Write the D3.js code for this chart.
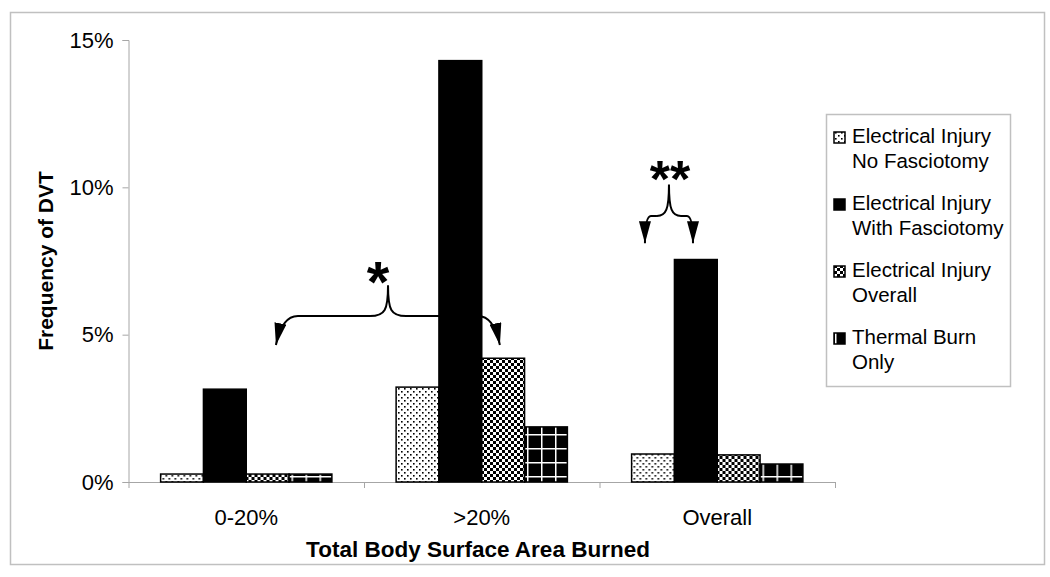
<!DOCTYPE html>
<html>
<head>
<meta charset="utf-8">
<script src="https://cdn.jsdelivr.net/npm/d3@7"></script>
<style>
  body { margin: 0; background: #fff; }
  text { font-family: "Liberation Sans", Arial, sans-serif; }
</style>
</head>
<body>
<div id="chart"></div>
<script>
// data
const categories = ["0-20%", ">20%", "Overall"];
const seriesNames = [
  ["Electrical Injury", "No Fasciotomy"],
  ["Electrical Injury", "With Fasciotomy"],
  ["Electrical Injury", "Overall"],
  ["Thermal Burn", "Only"]
];
const noFasciotomy   = [0.27, 3.22, 0.95];
const withFasciotomy = [3.15, 14.3, 7.55];
const elecOverall    = [0.27, 4.2, 0.92];
const thermalOnly    = [0.27, 1.87, 0.61];
const yTicks = [0, 5, 10, 15];
const seriesValues = [noFasciotomy, withFasciotomy, elecOverall, thermalOnly];

// significance braces (x in category units, y in %)
const braces = [
  { label: "*",  left: 0.626, right: 1.577, center: 1.102, tip: 6.68, bar: 5.63, arrow: 4.65, labelY: 6.11, labelDx: -10, size: 58 },
  { label: "**", left: 2.193, right: 2.397, center: 2.295, tip: 10.1, bar: 9.03, arrow: 8.1, labelY: 9.67, labelDx: 1, size: 52 }
];

const width = 1050, height = 577;
const margin = { left: 128.5, right: 1050 - 835, top: 40, bottom: 577 - 482 };

const svg = d3.select("#chart").append("svg")
  .attr("width", width).attr("height", height);

const defs = svg.append("defs");
// dotted
const pDot = defs.append("pattern").attr("id", "pat-dot")
  .attr("patternUnits", "userSpaceOnUse").attr("width", 6).attr("height", 6);
pDot.append("rect").attr("width", 6).attr("height", 6).attr("fill", "#fff");
pDot.append("rect").attr("x", 1).attr("y", 1).attr("width", 1.6).attr("height", 1.6).attr("fill", "#000");
pDot.append("rect").attr("x", 4).attr("y", 4).attr("width", 1.6).attr("height", 1.6).attr("fill", "#000");
// checker
const pChk = defs.append("pattern").attr("id", "pat-chk")
  .attr("patternUnits", "userSpaceOnUse").attr("width", 6).attr("height", 6);
pChk.append("rect").attr("width", 6).attr("height", 6).attr("fill", "#fff");
pChk.append("rect").attr("width", 3).attr("height", 3).attr("fill", "#000");
pChk.append("rect").attr("x", 3).attr("y", 3).attr("width", 3).attr("height", 3).attr("fill", "#000");
// grid
const pGrid = defs.append("pattern").attr("id", "pat-grid")
  .attr("patternUnits", "userSpaceOnUse").attr("width", 14).attr("height", 14);
pGrid.append("rect").attr("width", 14).attr("height", 14).attr("fill", "#000");
pGrid.append("rect").attr("x", 9).attr("y", 0).attr("width", 1.5).attr("height", 14).attr("fill", "#fff");
pGrid.append("rect").attr("x", 0).attr("y", 0).attr("width", 14).attr("height", 1.5).attr("fill", "#fff");

const fills = ["url(#pat-dot)", "#000", "url(#pat-chk)", "url(#pat-grid)"];

defs.append("marker").attr("id", "arrow")
  .attr("markerUnits", "userSpaceOnUse")
  .attr("markerWidth", 22).attr("markerHeight", 12)
  .attr("refX", 22).attr("refY", 6).attr("orient", "auto")
  .append("path").attr("d", "M0,0 L22,6 L0,12 Z").attr("fill", "#000");

// outer frame
svg.append("rect").attr("x", 10.5).attr("y", 12.5).attr("width", 1034).attr("height", 552)
  .attr("fill", "none").attr("stroke", "#c0c0c0").attr("stroke-width", 1.5);

const x0 = d3.scaleBand().domain(categories)
  .range([margin.left, width - margin.right]);
const x1 = d3.scaleBand().domain(d3.range(seriesValues.length))
  .range([0, x0.bandwidth()]).paddingInner(0).paddingOuter(0.75);
const xl = d3.scaleLinear().domain([0, categories.length])
  .range([margin.left, width - margin.right]);
const y = d3.scaleLinear().domain([0, 15]).range([height - margin.bottom, margin.top]);

// y axis
const yAxis = svg.append("g").attr("transform", `translate(${margin.left},0)`)
  .call(d3.axisLeft(y).tickValues(yTicks).tickFormat(d => d + "%").tickSize(6).tickPadding(9));
yAxis.select(".domain").attr("stroke", "#a6a6a6");
yAxis.selectAll(".tick line").attr("stroke", "#a6a6a6");
yAxis.selectAll(".tick text").attr("font-size", 22).attr("fill", "#000")
  .style("font-family", "'Liberation Sans', Arial, sans-serif");

// x axis
const xAxis = svg.append("g").attr("transform", `translate(0,${y(0)})`)
  .call(d3.axisBottom(xl).tickValues(d3.range(categories.length + 1)).tickFormat("").tickSize(6).tickSizeOuter(0));
xAxis.select(".domain").attr("stroke", "#a6a6a6");
xAxis.selectAll(".tick line").attr("stroke", "#a6a6a6");

svg.append("g").selectAll("text").data(categories).join("text")
  .attr("x", d => x0(d) + x0.bandwidth() / 2)
  .attr("y", 525)
  .attr("text-anchor", "middle").attr("font-size", 22)
  .text(d => d);

// bars
const groups = svg.append("g").selectAll("g").data(categories).join("g")
  .attr("transform", d => `translate(${x0(d)},0)`);
groups.selectAll("rect")
  .data((c, ci) => seriesValues.map((s, si) => ({ si, v: s[ci] })))
  .join("rect")
  .attr("x", d => x1(d.si))
  .attr("width", x1.bandwidth())
  .attr("y", d => y(d.v))
  .attr("height", d => y(0) - y(d.v))
  .attr("fill", d => fills[d.si])
  .attr("stroke", "#000").attr("stroke-width", 1.5);

// axis titles
svg.append("text")
  .attr("transform", `translate(53,${(y(0) + y(15)) / 2}) rotate(-90)`)
  .attr("text-anchor", "middle").attr("font-size", 21).attr("font-weight", "bold")
  .text("Frequency of DVT");
svg.append("text")
  .attr("x", 478).attr("y", 557)
  .attr("text-anchor", "middle").attr("font-size", 22.5).attr("font-weight", "bold")
  .text("Total Body Surface Area Burned");

// braces
const ann = svg.append("g").attr("fill", "none").attr("stroke", "#000").attr("stroke-width", 2);
braces.forEach(b => {
  const lx = xl(b.left), rx = xl(b.right), cx = xl(b.center);
  const hy = y(b.bar), ty = y(b.tip), ay = y(b.arrow);
  const r = Math.min(18, (cx - lx) / 2);
  // middle cusp
  ann.append("path").attr("d",
    `M${cx - r},${hy} C${cx - 3},${hy} ${cx},${hy - 6} ${cx},${ty} ` +
    `C${cx},${hy - 6} ${cx + 3},${hy} ${cx + r},${hy}`);
  // left / right branches to arrows
  const bend = b.label === "*" ? 22 : 6;
  ann.append("path").attr("marker-end", "url(#arrow)").attr("d",
    `M${cx - r},${hy} L${lx + bend},${hy} Q${lx + (bend > 6 ? 6 : 0)},${hy} ${lx},${ay}`);
  ann.append("path").attr("marker-end", "url(#arrow)").attr("d",
    `M${cx + r},${hy} L${rx - bend},${hy} Q${rx - (bend > 6 ? 6 : 0)},${hy} ${rx},${ay}`);
  svg.append("text")
    .attr("x", cx + b.labelDx).attr("y", y(b.labelY))
    .attr("text-anchor", "middle").attr("font-size", b.size).attr("font-weight", "bold")
    .text(b.label);
});

// legend
const lg = svg.append("g");
lg.append("rect").attr("x", 826.5).attr("y", 114.5).attr("width", 184).attr("height", 272)
  .attr("fill", "#fff").attr("stroke", "#c0c0c0").attr("stroke-width", 1.5);
const items = lg.selectAll("g").data(seriesNames).join("g")
  .attr("transform", (d, i) => `translate(0,${143 + i * 67})`);
items.append("rect").attr("x", 834).attr("y", -11).attr("width", 11).attr("height", 11)
  .attr("fill", (d, i) => fills[i]).attr("stroke", "#000").attr("stroke-width", 1.5);
items.append("text").attr("x", 852).attr("y", 0).attr("font-size", 20.5).text(d => d[0]);
items.append("text").attr("x", 852).attr("y", 24.5).attr("font-size", 20.5).text(d => d[1]);
</script>
</body>
</html>
